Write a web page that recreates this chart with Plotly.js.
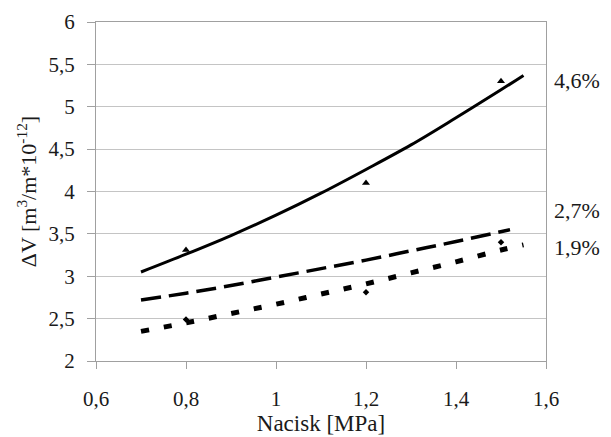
<!DOCTYPE html>
<html>
<head>
<meta charset="utf-8">
<script src="https://cdn.plot.ly/plotly-3.0.1.min.js"></script>
<style>html,body{margin:0;padding:0;background:#fff;}#chart{width:611px;height:437px;}</style>
</head>
<body>
<div id="chart"></div>
<script>
// Fitted curves
var xLine46 = [0.70, 0.80, 0.90, 1.00, 1.10, 1.20, 1.30, 1.40, 1.50, 1.55];
var yLine46 = [3.05, 3.26, 3.48, 3.72, 3.98, 4.26, 4.55, 4.87, 5.20, 5.37];
var xLine27 = [0.70, 0.80, 0.90, 1.00, 1.10, 1.20, 1.30, 1.40, 1.52];
var yLine27 = [2.72, 2.80, 2.89, 2.99, 3.09, 3.19, 3.30, 3.41, 3.55];
var xLine19 = [0.70, 0.80, 0.90, 1.00, 1.10, 1.20, 1.30, 1.40, 1.50, 1.55];
var yLine19 = [2.35, 2.45, 2.56, 2.67, 2.79, 2.91, 3.04, 3.17, 3.31, 3.37];
// Measured points
var xPts = [0.8, 1.2, 1.5];
var yPts46 = [3.31, 4.10, 5.30];
var yPts19 = [2.49, 2.81, 3.40];
// Curve labels
var labelText = ['4,6%', '2,7%', '1,9%'];
var labelY = [5.31, 3.77, 3.34];

var serif = "'Liberation Serif', 'Times New Roman', Times, serif";
var traces = [
  {x: xLine46, y: yLine46, mode: 'lines', line: {color: '#000', width: 3, shape: 'spline', smoothing: 1}},
  {x: xLine27, y: yLine27, mode: 'lines', line: {color: '#000', width: 3.5, dash: '20px,8px', shape: 'spline', smoothing: 1}},
  {x: xLine19, y: yLine19, mode: 'lines', line: {color: '#000', width: 5, dash: '8px,15px', shape: 'spline', smoothing: 1}},
  {x: xPts, y: yPts46, mode: 'markers', marker: {symbol: 'triangle-up', size: 7, color: '#000'}},
  {x: xPts, y: yPts19, mode: 'markers', marker: {symbol: 'diamond', size: 5, color: '#000'}}
];

var annotations = labelText.map(function (t, i) {
  return {xref: 'paper', yref: 'y', x: 1, y: labelY[i], xanchor: 'left', yanchor: 'middle',
    xshift: 6, text: t, showarrow: false, font: {family: serif, size: 22, color: '#1a1a1a'}};
});

var layout = {
  width: 611, height: 437,
  margin: {l: 96, r: 65, t: 22, b: 76},
  paper_bgcolor: '#fff', plot_bgcolor: '#fff',
  showlegend: false,
  separators: ', ',
  font: {family: serif, size: 21, color: '#1a1a1a'},
  xaxis: {
    range: [0.6, 1.6], dtick: 0.2, tick0: 0.6,
    showgrid: false, zeroline: false,
    showline: true, linecolor: '#a0a0a0', linewidth: 1, mirror: true,
    ticks: 'outside', ticklen: 7, tickcolor: '#a0a0a0',
    ticklabelstandoff: 12,
    title: {text: 'Nacisk [MPa]', font: {family: serif, size: 23, color: '#1a1a1a'}, standoff: 2}
  },
  yaxis: {
    range: [2, 6], dtick: 0.5, tick0: 2,
    showgrid: true, gridcolor: '#c4c4c4', gridwidth: 1, zeroline: false,
    showline: true, linecolor: '#a0a0a0', linewidth: 1, mirror: true,
    ticks: 'outside', ticklen: 8, tickcolor: '#a0a0a0',
    ticklabelstandoff: 8,
    title: {text: 'ΔV [m<sup>3</sup>/m*10<sup>-12</sup>]', font: {family: serif, size: 22, color: '#1a1a1a'}, standoff: 5}
  },
  annotations: annotations
};

Plotly.newPlot('chart', traces, layout, {staticPlot: true, displayModeBar: false});
</script>
</body>
</html>
